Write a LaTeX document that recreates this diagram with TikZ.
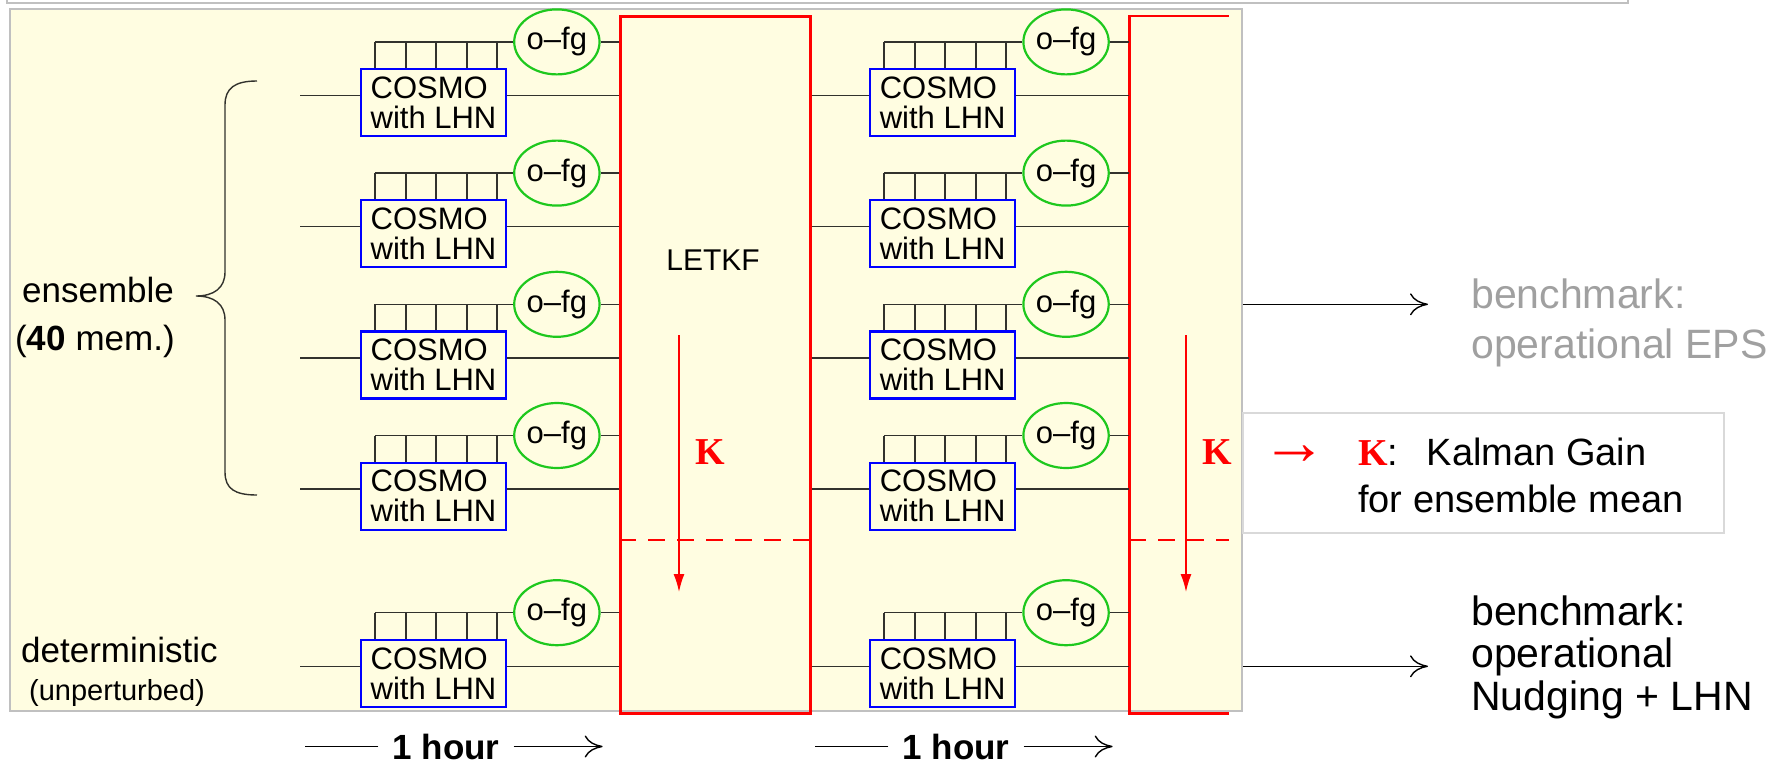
\documentclass[tikz,border=0pt]{standalone}
\usepackage{fontspec}
\setmainfont{Liberation Sans}
\newfontfamily\timesfont{Liberation Serif}
\usetikzlibrary{shapes,arrows,arrows.meta,positioning,calc}
\definecolor{panelyellow}{RGB}{255,253,225}
\definecolor{framegray}{RGB}{192,192,192}
\definecolor{kboxgray}{RGB}{217,217,217}
\definecolor{kred}{RGB}{255,0,0}
\definecolor{ofggreen}{RGB}{30,200,30}
\definecolor{cosmoblue}{RGB}{0,0,255}
\definecolor{benchgray}{RGB}{160,160,160}
\definecolor{wirecol}{RGB}{50,50,45}
\tikzstyle{cosmo} = [draw=cosmoblue, line width=2.2pt, rectangle, minimum width=145pt, minimum height=67pt, inner sep=0pt, align=left, font=\fontsize{31}{30}\selectfont]
\tikzstyle{ofg} = [draw=ofggreen, fill=panelyellow, line width=2.2pt, ellipse, minimum width=76pt, minimum height=65pt, inner sep=0pt, font=\fontsize{31}{31}\selectfont]
\tikzstyle{wire} = [draw=wirecol, line width=1.4pt]
\tikzstyle{letkf} = [draw=kred, line width=2.4pt]
\tikzstyle{gain} = [text=kred, inner sep=0pt, font=\fontsize{38}{38}\selectfont\timesfont\bfseries]
\tikzstyle{sidetext} = [anchor=base west, inner sep=0pt, font=\fontsize{35}{35}\selectfont]
\tikzstyle{benchtext} = [anchor=base west, inner sep=0pt, font=\fontsize{41}{41}\selectfont]

\begin{document}
\begin{tikzpicture}[x=1pt, y=-1pt, >={To[length=18pt,width=22pt]}]
    \useasboundingbox (0,0) rectangle (1787,763);
    % Frames
    \draw[framegray, line width=1.5pt] (7,-10) -- (7,3) -- (1628,3) -- (1628,-10);
    \node[draw=framegray, line width=2pt, fill=panelyellow, minimum width=1232pt, minimum height=702pt, inner sep=0pt] (panel) at (626,360) {};

    % First cycle
    \node [cosmo] (a1) at (433.5,102.5) {COSMO\\with LHN};
    \node [cosmo, below=62pt of a1] (a2) {COSMO\\with LHN};
    \node [cosmo, below=62pt of a2] (a3) {COSMO\\with LHN};
    \node [cosmo, below=62pt of a3] (a4) {COSMO\\with LHN};
    \node [cosmo, below=108pt of a4] (a5) {COSMO\\with LHN};
    % Second cycle
    \node [cosmo, right=362pt of a1] (b1) {COSMO\\with LHN};
    \node [cosmo, right=362pt of a2] (b2) {COSMO\\with LHN};
    \node [cosmo, right=362pt of a3] (b3) {COSMO\\with LHN};
    \node [cosmo, right=362pt of a4] (b4) {COSMO\\with LHN};
    \node [cosmo, right=362pt of a5] (b5) {COSMO\\with LHN};
    % LETKF blocks
    \node [letkf, minimum width=190pt, minimum height=697pt, right=112pt of a3] (letkfA) {};
    \node [minimum width=99pt, minimum height=697pt, inner sep=0pt, right=113pt of b3] (letkfB) {};
    \draw [letkf] (letkfB.north east) -- (letkfB.north west) -- (letkfB.south west) -- (letkfB.south east);
    \node [font=\fontsize{30}{30}\selectfont] (letkftext) at (713,260) {LETKF};

    % o-fg
    \node [ofg, right=6pt of a1.north east, yshift=26pt] (oa1) {o--fg};
    \node [ofg, right=6pt of a2.north east, yshift=26pt] (oa2) {o--fg};
    \node [ofg, right=6pt of a3.north east, yshift=26pt] (oa3) {o--fg};
    \node [ofg, right=6pt of a4.north east, yshift=26pt] (oa4) {o--fg};
    \node [ofg, right=6pt of a5.north east, yshift=26pt] (oa5) {o--fg};
    \node [ofg, right=6pt of b1.north east, yshift=26pt] (ob1) {o--fg};
    \node [ofg, right=6pt of b2.north east, yshift=26pt] (ob2) {o--fg};
    \node [ofg, right=6pt of b3.north east, yshift=26pt] (ob3) {o--fg};
    \node [ofg, right=6pt of b4.north east, yshift=26pt] (ob4) {o--fg};
    \node [ofg, right=6pt of b5.north east, yshift=26pt] (ob5) {o--fg};

    % Connections
    \foreach \c/\l in {a/letkfA, b/letkfB} {
      \foreach \r in {1,...,5} {
        \coordinate (w\c\r) at ([yshift=7pt]\c\r.west);
        \coordinate (e\c\r) at ([yshift=7pt]\c\r.east);
        \draw [wire] (e\c\r) -- (e\c\r -| \l.west);
        \draw [wire] (o\c\r.east) -- (o\c\r -| \l.west);
        \draw [wire] ([xshift=15pt,yshift=26pt]\c\r.north west) -- (o\c\r.west);
        \foreach \k in {15,46,76,107,137}
          \draw [wire] ([xshift=\k pt]\c\r.north west) -- ++(0,26pt);
      }
    }
    \foreach \r in {1,...,5} {
      \draw [wire] (wa\r) -- ++(-60pt,0);
      \draw [wire] (wb\r) -- (wb\r -| letkfA.east);
    }

    % Kalman gain
    \coordinate (dashy) at (0,540);
    \draw [letkf, dash pattern=on 17pt off 12pt] (letkfA.west |- dashy) -- (letkfA.east |- dashy);
    \draw [letkf, dash pattern=on 17pt off 12pt] (letkfB.west |- dashy) -- (letkfB.east |- dashy);
    \coordinate (kA) at (679,335);
    \coordinate (kA') at (679,592);
    \coordinate (kB) at (1186,335);
    \coordinate (kB') at (1186,592);
    \draw [kred, line width=1.5pt, -{Latex[length=18pt,width=11pt]}] (kA) -- (kA');
    \draw [kred, line width=1.5pt, -{Latex[length=18pt,width=11pt]}] (kB) -- (kB');
    \node [gain] (gainA) at (710,452) {K};
    \node [gain] (gainB) at (1217,452) {K};

    % Left labels
    \node [sidetext] (ens) at (22,302) {ensemble};
    \node [sidetext] (mem) at (15,350) {(\textbf{40} mem.)};
    \node [sidetext] (det) at (21,662) {deterministic};
    \node [sidetext, font=\fontsize{29}{29}\selectfont] (unpert) at (29,700) {(unperturbed)};
    \draw [wire] (257,81) .. controls (235,81) and (225,88) .. (225,105) -- (225,272)
        .. controls (225,288) and (214,296) .. (196,296)
        .. controls (214,296) and (225,304) .. (225,320) -- (225,472)
        .. controls (225,489) and (235,495) .. (257,495);

    % Time axis
    \node [anchor=base, inner sep=0pt, font=\fontsize{35}{35}\selectfont\bfseries] (hourA) at (446,759) {1 hour};
    \node [anchor=base, inner sep=0pt, font=\fontsize{35}{35}\selectfont\bfseries] (hourB) at (956,759) {1 hour};
    \draw [black, line width=1.4pt] ([xshift=-14pt]hourA.west) -- ([xshift=-87pt]hourA.west);
    \draw [black, line width=1.4pt, ->] ([xshift=14pt]hourA.east) -- ([xshift=103pt]hourA.east);
    \draw [black, line width=1.4pt] ([xshift=-14pt]hourB.west) -- ([xshift=-87pt]hourB.west);
    \draw [black, line width=1.4pt, ->] ([xshift=14pt]hourB.east) -- ([xshift=103pt]hourB.east);

    % Right side
    \node [benchtext, text=benchgray] (eps1) at (1471,308) {benchmark:};
    \node [benchtext, text=benchgray] (eps2) at (1471,358) {operational EPS};
    \node [benchtext] (nud1) at (1471,625) {benchmark:};
    \node [benchtext] (nud2) at (1471,667) {operational};
    \node [benchtext] (nud3) at (1471,710) {Nudging + LHN};
    \coordinate (benchend) at (1428,0);
    \draw [black, line width=1.4pt, ->] (panel.east |- ob3) -- (benchend |- ob3);
    \draw [black, line width=1.4pt, ->] (panel.east |- eb5) -- (benchend |- eb5);

    \node [draw=kboxgray, line width=2pt, fill=white, minimum width=481pt, minimum height=120pt, inner sep=0pt] (kbox) at (1483.5,473) {};
    \node [text=kred, inner sep=0pt, font=\fontsize{66}{66}\selectfont\timesfont] (karrow) at (1294,455) {→};
    \node [anchor=base west, inner sep=0pt, font=\fontsize{38}{38}\selectfont] (kline1) at (1358,465) {{\color{kred}\timesfont\bfseries K}:\hspace{0.75em}Kalman Gain};
    \node [anchor=base west, inner sep=0pt, font=\fontsize{38}{38}\selectfont] (kline2) at (1358,512) {for ensemble mean};
\end{tikzpicture}
\end{document}
